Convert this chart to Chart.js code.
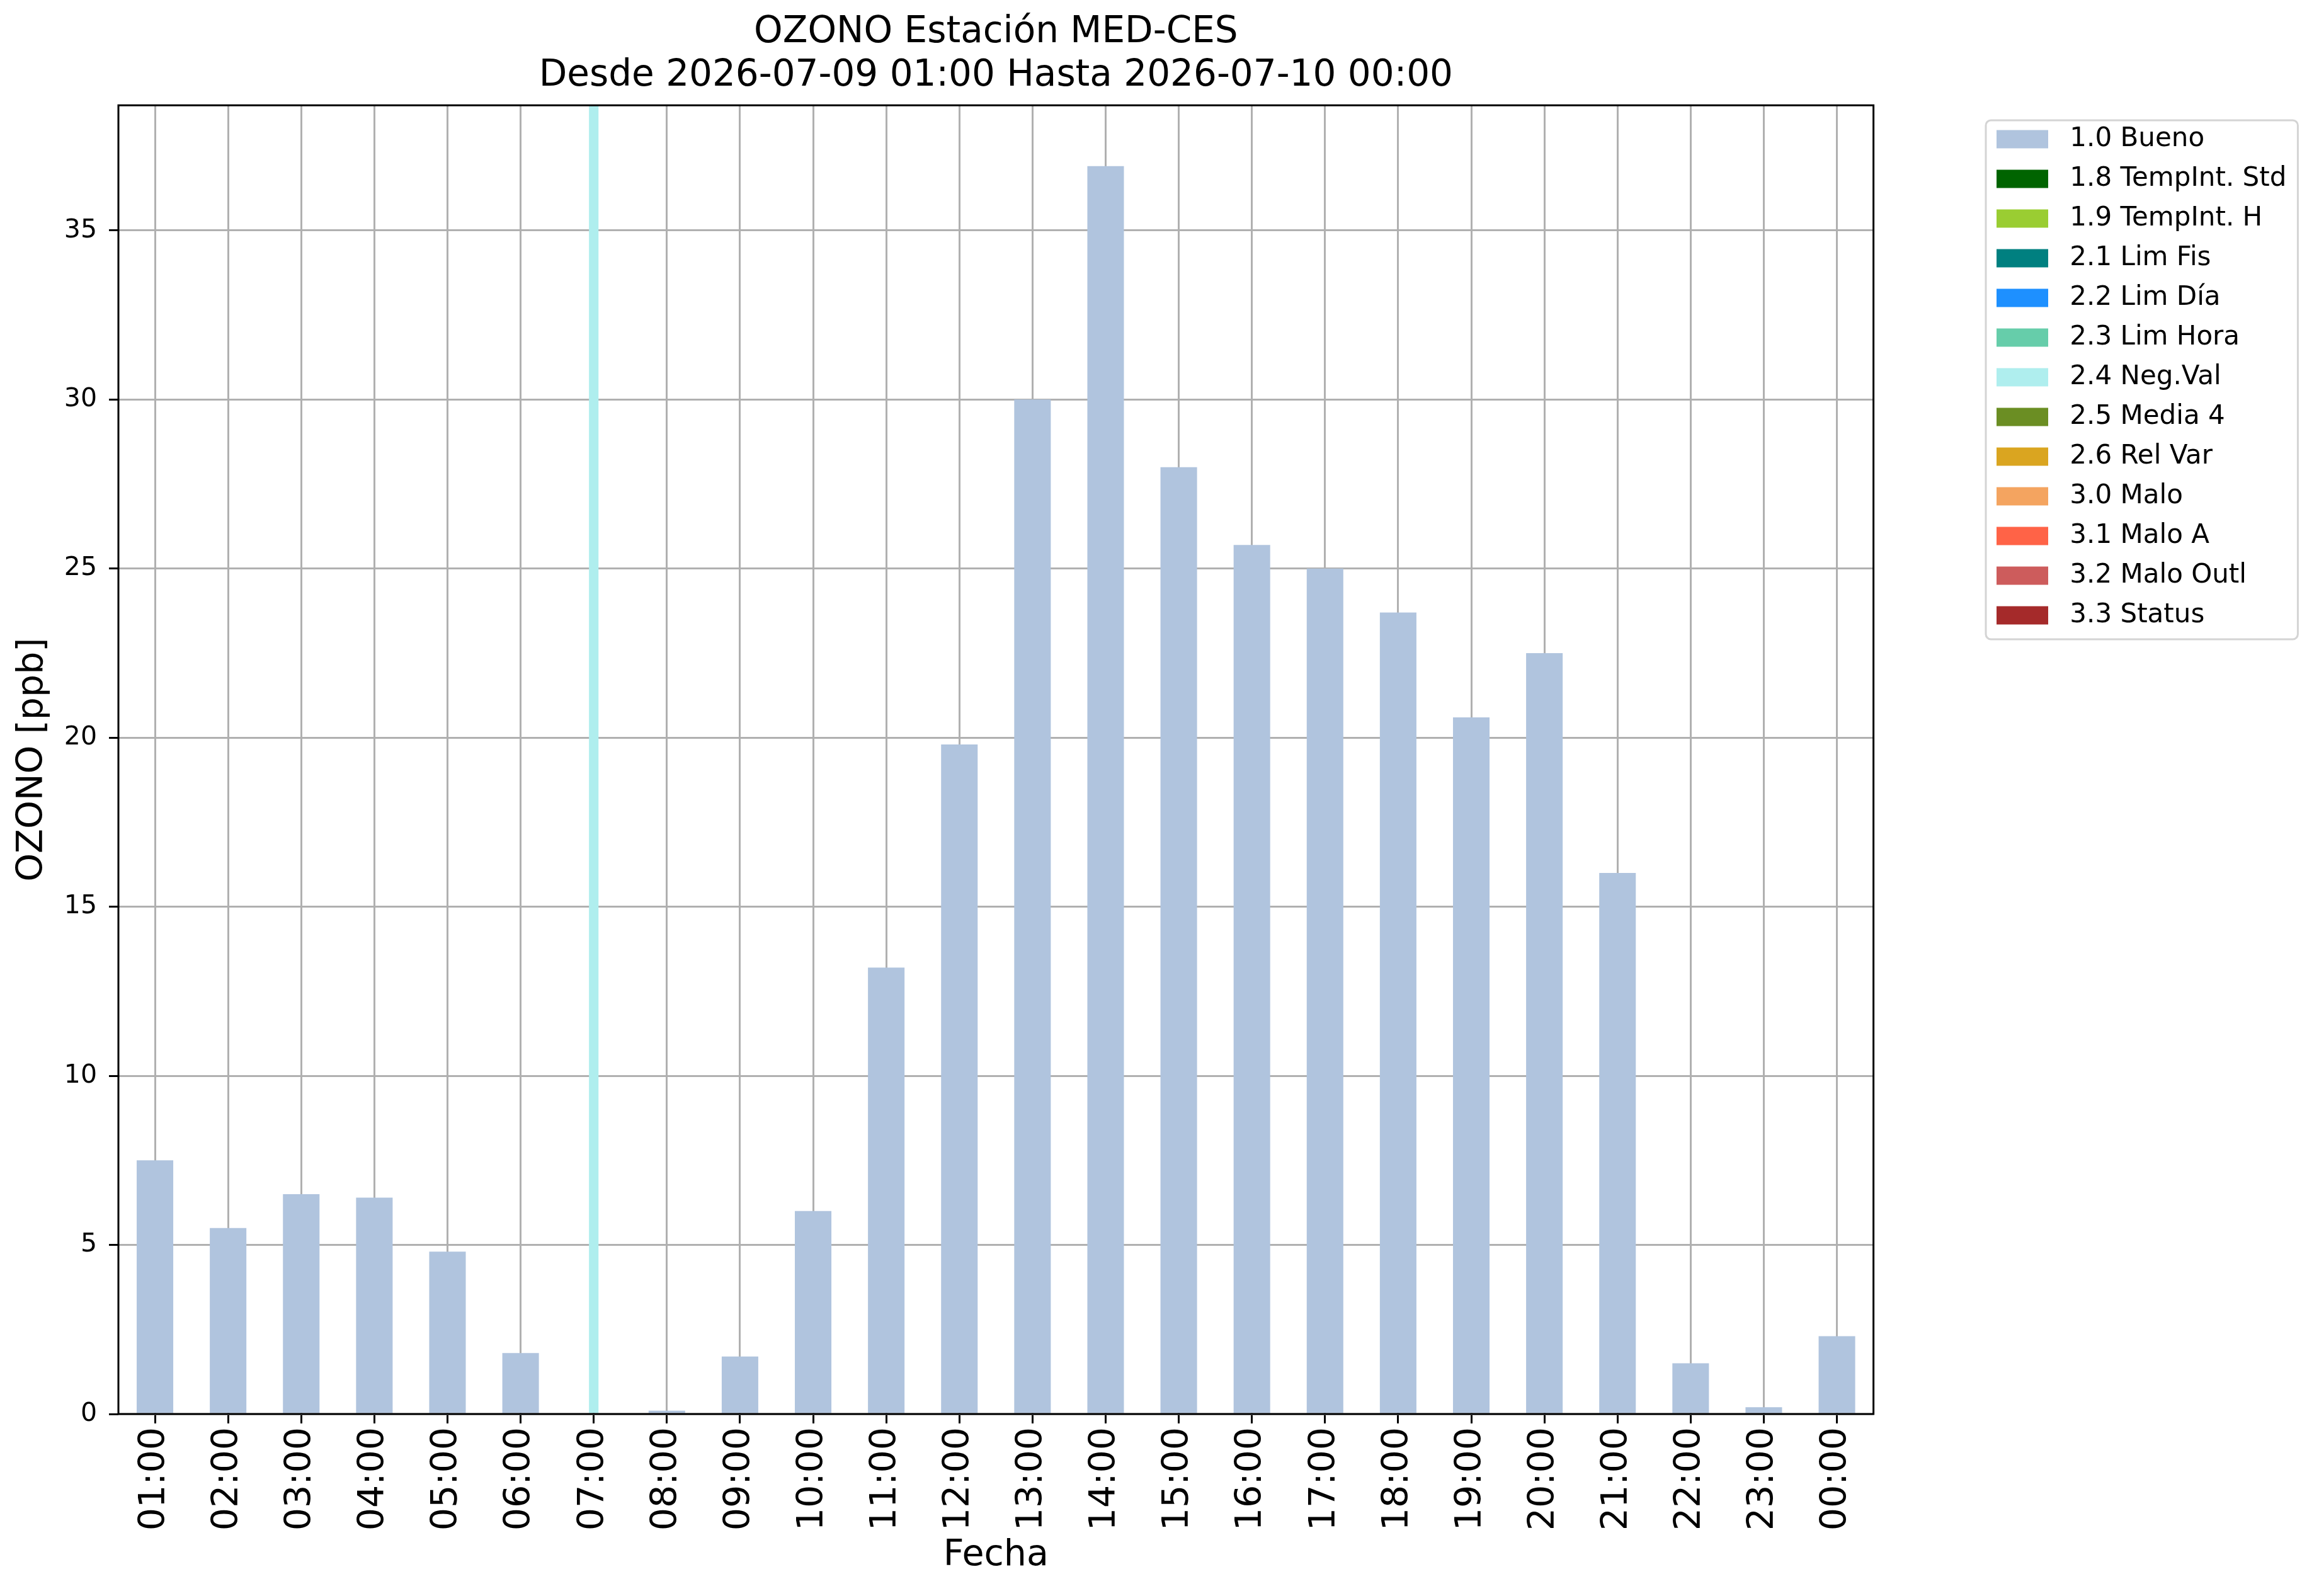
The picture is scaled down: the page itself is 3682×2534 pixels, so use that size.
<!DOCTYPE html>
<html>
<head>
<meta charset="utf-8">
<script src="https://cdn.jsdelivr.net/npm/chart.js@4.4.1/dist/chart.umd.min.js"></script>
<style>
  html, body { margin: 0; padding: 0; background: #fff; }
  canvas { display: block; }
</style>
</head>
<body>
<canvas id="ozonoChart" width="3682" height="2534"></canvas>
<script>
// Hours shown on the x axis
const hours = ['01:00', '02:00', '03:00', '04:00', '05:00', '06:00', '07:00', '08:00',
  '09:00', '10:00', '11:00', '12:00', '13:00', '14:00', '15:00', '16:00',
  '17:00', '18:00', '19:00', '20:00', '21:00', '22:00', '23:00', '00:00'];

// 1.0 Bueno values (ppb)
const buenoValues = [7.5, 5.5, 6.5, 6.4, 4.8, 1.8, null, 0.1, 1.7, 6.0, 13.2, 19.8,
  30.0, 36.9, 28.0, 25.7, 25.0, 23.7, 20.6, 22.5, 16.0, 1.5, 0.2, 2.3];

// 2.4 Neg.Val flag, band reaches the top of the axis
const negValValues = [null, null, null, null, null, null, 38.7, null, null, null, null, null,
  null, null, null, null, null, null, null, null, null, null, null, null];

const yTicks = [0, 5, 10, 15, 20, 25, 30, 35];
const yMax = 38.7;

// Quality flags shown in the legend
const flagLabels = ['1.0 Bueno', '1.8 TempInt. Std', '1.9 TempInt. H', '2.1 Lim Fis',
  '2.2 Lim Día', '2.3 Lim Hora', '2.4 Neg.Val', '2.5 Media 4', '2.6 Rel Var',
  '3.0 Malo', '3.1 Malo A', '3.2 Malo Outl', '3.3 Status'];
const flagColors = ['#b0c4de', '#006400', '#9acd32', '#008080', '#1e90ff', '#66cdaa',
  '#afeeee', '#6b8e23', '#daa520', '#f4a460', '#ff6347', '#cd5c5c', '#a52a2a'];

const flagData = {
  '1.0 Bueno': buenoValues,
  '2.4 Neg.Val': negValValues,
};

Chart.defaults.font.family = "'DejaVu Sans', sans-serif";
Chart.defaults.color = '#000';

const datasets = flagLabels.map((label, i) => ({
  label: label,
  data: flagData[label] || hours.map(() => null),
  backgroundColor: flagColors[i],
  borderWidth: 0,
  barPercentage: label === '2.4 Neg.Val' ? 0.13 : 0.5,
  categoryPercentage: 1.0,
}));

// Frame round the plot and the legend, and legend placement
const framePlugin = {
  id: 'framePlugin',
  afterLayout(chart) {
    const lg = chart.legend;
    const w = lg.right - lg.left;
    const h = lg.bottom - lg.top;
    lg.left = 3149;
    lg.right = lg.left + w;
    lg.top = 179;
    lg.bottom = lg.top + h;
  },
  afterDraw(chart) {
    const ctx = chart.ctx;
    const a = chart.chartArea;
    ctx.save();
    ctx.strokeStyle = '#000';
    ctx.lineWidth = 3;
    ctx.strokeRect(a.left, a.top, a.right - a.left, a.bottom - a.top);

    const boxes = chart.legend.legendHitBoxes;
    if (boxes && boxes.length) {
      const first = boxes[0];
      const last = boxes[boxes.length - 1];
      const right = Math.max(...boxes.map(b => b.left + b.width));
      const x0 = first.left - 17;
      const y0 = first.top - 9;
      ctx.strokeStyle = '#d4d4d4';
      ctx.lineWidth = 3;
      ctx.beginPath();
      ctx.roundRect(x0, y0, right + 18 - x0, last.top + last.height + 17 - y0, 8);
      ctx.stroke();
    }
    ctx.restore();
  },
};

new Chart(document.getElementById('ozonoChart').getContext('2d'), {
  type: 'bar',
  data: {
    labels: hours,
    datasets: datasets,
  },
  plugins: [framePlugin],
  options: {
    responsive: false,
    animation: false,
    devicePixelRatio: 1,
    grouped: false,
    layout: {
      padding: { top: 0, left: 0, bottom: 0, right: 216 },
    },
    scales: {
      x: {
        type: 'category',
        offset: true,
        z: 1,
        grid: {
          offset: false,
          color: '#b0b0b0',
          lineWidth: 3,
          tickLength: 15,
          tickColor: '#000',
          tickWidth: 3,
        },
        border: { display: false },
        ticks: {
          font: { size: 57 },
          minRotation: 90,
          maxRotation: 90,
          autoSkip: false,
          padding: 6,
          color: '#000',
        },
        title: {
          display: true,
          text: 'Fecha',
          font: { size: 57 },
          padding: { top: 0, bottom: 30 },
          color: '#000',
        },
        afterFit(scale) {
          scale.height = 289;
        },
      },
      y: {
        min: 0,
        max: yMax,
        z: 1,
        grid: {
          color: '#b0b0b0',
          lineWidth: 3,
          tickLength: 15,
          tickColor: '#000',
          tickWidth: 3,
        },
        border: { display: false },
        afterBuildTicks(scale) {
          scale.ticks = yTicks.map(v => ({ value: v }));
        },
        ticks: {
          font: { size: 41 },
          padding: 19,
          color: '#000',
        },
        title: {
          display: true,
          text: 'OZONO [ppb]',
          font: { size: 57 },
          padding: { top: 18, bottom: 0 },
          color: '#000',
        },
        afterFit(scale) {
          scale.width = 188;
        },
      },
    },
    plugins: {
      title: {
        display: true,
        fullSize: false,
        text: ['OZONO Estación MED-CES', 'Desde 2026-07-09 01:00 Hasta 2026-07-10 00:00'],
        font: { size: 58, weight: 'normal', lineHeight: 1.2 },
        padding: { top: 17, bottom: 11 },
        color: '#000',
      },
      legend: {
        position: 'right',
        align: 'start',
        labels: {
          boxWidth: 82,
          boxHeight: 29,
          padding: 21,
          font: { size: 42 },
          color: '#000',
          generateLabels(chart) {
            return Chart.defaults.plugins.legend.labels.generateLabels(chart)
              .map(item => Object.assign(item, { text: ' ' + item.text }));
          },
        },
      },
      tooltip: { enabled: false },
    },
  },
});
</script>
</body>
</html>
